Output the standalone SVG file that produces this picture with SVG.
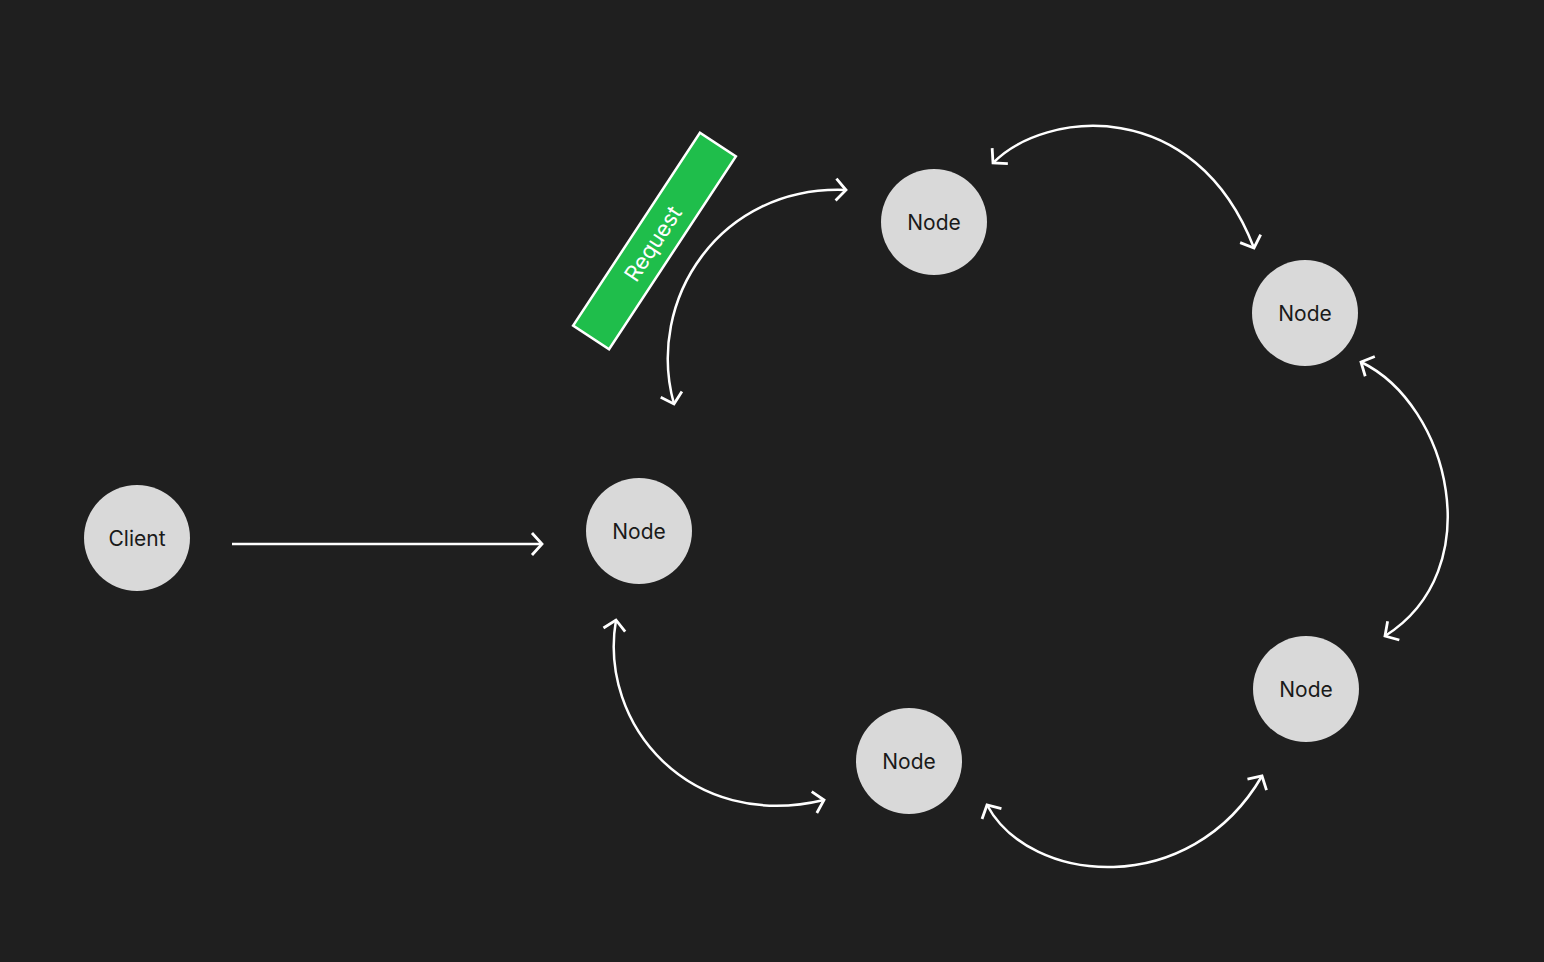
<svg xmlns="http://www.w3.org/2000/svg" width="1544" height="962" viewBox="0 0 1544 962">
<style>
.node circle{fill:#d9d9d9}
.node text{font-family:Inter,"Liberation Sans",sans-serif;font-size:21px;fill:#1a1a1a;text-anchor:middle;dominant-baseline:central}
.conn path{fill:none;stroke:#ffffff;stroke-width:2.5}
</style>
<defs>
<marker id="chev" markerUnits="userSpaceOnUse" markerWidth="30" markerHeight="30" viewBox="-15 -15 30 30" refX="0" refY="0" orient="auto-start-reverse">
<path d="M -10,-11 L 0,0 L -10,11" fill="none" stroke="#ffffff" stroke-width="2.8"/>
</marker>
</defs>
<rect width="1544" height="962" fill="#1f1f1f"/>
<g class="conn" id="connectors">
<path d="M 232,544 L 542,544" stroke-width="3.5" marker-end="url(#chev)"/>
<path d="M 674,404 C 645,300 720,185 846,190" marker-start="url(#chev)" marker-end="url(#chev)"/>
<path d="M 993,163 C 1045,110 1195,95 1254,248" marker-start="url(#chev)" marker-end="url(#chev)"/>
<path d="M 1361,362 C 1450,405 1490,570 1385,636" marker-start="url(#chev)" marker-end="url(#chev)"/>
<path d="M 987,805 C 1030,885 1190,900 1262,776" marker-start="url(#chev)" marker-end="url(#chev)"/>
<path d="M 616,620 C 598,725 690,832 824,800" marker-start="url(#chev)" marker-end="url(#chev)"/>
</g>
<g id="request" transform="translate(654.5,241) rotate(-56.7)">
<rect x="-115.5" y="-21.5" width="231" height="43" fill="#1fbe4b" stroke="#ffffff" stroke-width="2.5"/>
<text x="-3" y="0" font-family="Inter,'Liberation Sans',sans-serif" font-size="22" fill="#ffffff" text-anchor="middle" dominant-baseline="central">Request</text>
</g>
<g class="node" id="client"><circle cx="137" cy="538" r="53"/><text x="137" y="538">Client</text></g>
<g class="node" id="node-entry"><circle cx="639" cy="531" r="53"/><text x="639" y="531">Node</text></g>
<g class="node" id="node-top"><circle cx="934" cy="222" r="53"/><text x="934" y="222">Node</text></g>
<g class="node" id="node-right-top"><circle cx="1305" cy="313" r="53"/><text x="1305" y="313">Node</text></g>
<g class="node" id="node-right-bottom"><circle cx="1306" cy="689" r="53"/><text x="1306" y="689">Node</text></g>
<g class="node" id="node-bottom"><circle cx="909" cy="761" r="53"/><text x="909" y="761">Node</text></g>
</svg>
